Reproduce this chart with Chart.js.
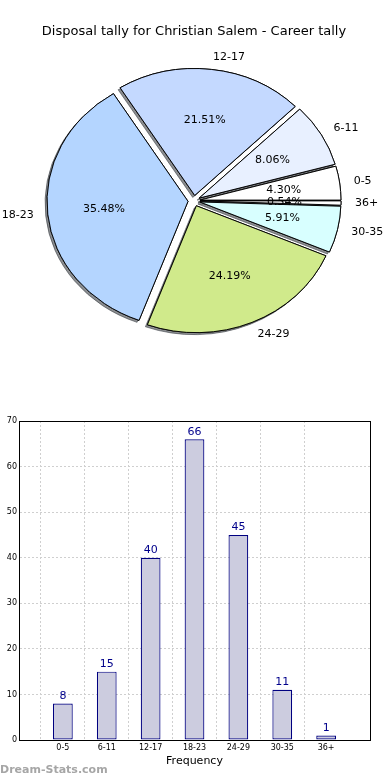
<!DOCTYPE html>
<html>
<head>
<meta charset="utf-8">
<script src="https://cdn.jsdelivr.net/npm/chart.js@4.4.1/dist/chart.umd.min.js"></script>
<style>
    body { margin: 0; background: #fff; }
    #page { position: relative; width: 390px; height: 780px; overflow: hidden; }
    #pieChart { position: absolute; left: 0; top: 0; }
    #barChart { position: absolute; left: 0; top: 400px; }
    #credit {
        position: absolute; left: 0; top: 763px;
        font: bold 11px "DejaVu Sans", sans-serif; color: #a6a6a6;
    }
</style>
</head>
<body>
<div id="page">
    <canvas id="pieChart" width="390" height="400"></canvas>
    <canvas id="barChart" width="390" height="380"></canvas>
    <div id="credit">Dream-Stats.com</div>
</div>
<script>
// Chart data
const ageGroups = ['0-5', '6-11', '12-17', '18-23', '24-29', '30-35', '36+'];
const disposalCounts = [8, 15, 40, 66, 45, 11, 1];
const countTicks = [0, 10, 20, 30, 40, 50, 60, 70];

// Styles
const sliceColors = ['#ffffff', '#e8f0ff', '#c4d9ff', '#b4d5ff', '#d0ea8b', '#d8ffff', '#ffffff'];
const EXPLODE = 6;      // px each slice is pulled out
const SQUASH = 0.9;     // pie is a bit flatter than a circle
const FONT = '"DejaVu Sans", sans-serif';

document.addEventListener('DOMContentLoaded', function() {
    createPieChart();
    createBarChart();
});

// Draws the slices pulled out, squashed, with a shadow pass underneath
const explodedPie = {
    id: 'explodedPie',
    beforeDatasetDraw(chart, args) {
        const ctx = chart.ctx;
        const area = chart.chartArea;
        const cx = (area.left + area.right) / 2;
        const cy = (area.top + area.bottom) / 2;
        ctx.save();
        ctx.translate(cx, cy);
        ctx.scale(1, SQUASH);
        ctx.translate(-cx, -cy);
        [true, false].forEach(withShadow => {
            args.meta.data.forEach(arc => {
                const mid = (arc.startAngle + arc.endAngle) / 2;
                ctx.save();
                if (withShadow) {
                    ctx.shadowColor = 'rgba(45, 50, 55, 0.55)';
                    ctx.shadowOffsetX = -2;
                    ctx.shadowOffsetY = 2;
                }
                ctx.translate(Math.cos(mid) * EXPLODE, Math.sin(mid) * EXPLODE);
                arc.draw(ctx);
                ctx.restore();
            });
        });
        ctx.restore();
        return false;
    },
    afterDatasetsDraw(chart) {
        const ctx = chart.ctx;
        const meta = chart.getDatasetMeta(0);
        const values = chart.data.datasets[0].data;
        const total = values.reduce((a, b) => a + b, 0);
        ctx.save();
        ctx.font = '11px ' + FONT;
        ctx.fillStyle = '#000';
        ctx.textBaseline = 'middle';
        meta.data.forEach((arc, i) => {
            const mid = (arc.startAngle + arc.endAngle) / 2;
            const cos = Math.cos(mid);
            const sin = Math.sin(mid);
            const r = arc.outerRadius;
            // category label outside
            ctx.textAlign = cos > 0 ? 'left' : 'right';
            ctx.fillText(chart.data.labels[i],
                arc.x + cos * (EXPLODE + 1.1 * r),
                arc.y + sin * (EXPLODE + 1.1 * r) * SQUASH);
            // percentage inside
            ctx.textAlign = 'center';
            ctx.fillText((values[i] / total * 100).toFixed(2) + '%',
                arc.x + cos * (EXPLODE + 0.6 * r),
                arc.y + sin * (EXPLODE + 0.6 * r) * SQUASH);
        });
        ctx.restore();
    }
};

function createPieChart() {
    // matplotlib goes counter-clockwise from 3 o'clock, Chart.js clockwise: reverse
    const labels = ageGroups.slice().reverse();
    const data = disposalCounts.slice().reverse();
    const colors = sliceColors.slice().reverse();

    new Chart(document.getElementById('pieChart'), {
        type: 'pie',
        data: {
            labels: labels,
            datasets: [{
                data: data,
                backgroundColor: colors,
                borderColor: '#000',
                borderWidth: 1
            }]
        },
        options: {
            responsive: false,
            animation: false,
            events: [],
            rotation: 90,
            radius: 141,
            layout: { padding: { left: 0, right: 2, top: 0, bottom: 38 } },
            plugins: {
                legend: { display: false },
                tooltip: { enabled: false },
                title: {
                    display: true,
                    text: 'Disposal tally for Christian Salem - Career tally',
                    color: '#000',
                    font: { family: FONT, size: 13, weight: 'normal' },
                    padding: { top: 24, bottom: 0 }
                }
            }
        },
        plugins: [explodedPie]
    });
}

// Numbers above the bars
const barValues = {
    id: 'barValues',
    afterDraw(chart) {
        const ctx = chart.ctx;
        const values = chart.data.datasets[0].data;
        ctx.save();
        ctx.font = '11px ' + FONT;
        ctx.fillStyle = '#00008b';
        ctx.textAlign = 'center';
        ctx.textBaseline = 'bottom';
        chart.getDatasetMeta(0).data.forEach((bar, i) => {
            if (values[i] == null) return;
            ctx.fillText(values[i], bar.x, bar.y - 2);
        });
        ctx.restore();
    }
};

function createBarChart() {
    // empty slots at both ends give the extra room matplotlib leaves
    const labels = [''].concat(ageGroups, ['']);
    const data = [null].concat(disposalCounts, [null]);
    const gridColor = '#cfcfcf';
    const hideEdges = (n) => (c) => (c.index === 0 || c.index === n - 1) ? 'rgba(0,0,0,0)' : gridColor;

    new Chart(document.getElementById('barChart'), {
        type: 'bar',
        data: {
            labels: labels,
            datasets: [{
                data: data,
                backgroundColor: '#ccccdf',
                borderColor: '#000080',
                borderWidth: 1.2,
                borderSkipped: false,
                barPercentage: 0.45,
                categoryPercentage: 1
            }]
        },
        options: {
            responsive: false,
            animation: false,
            events: [],
            layout: { padding: { left: 0, right: 20, top: 21, bottom: 0 } },
            plugins: {
                legend: { display: false },
                tooltip: { enabled: false }
            },
            scales: {
                x: {
                    type: 'category',
                    offset: false,
                    z: 1,
                    grid: { color: hideEdges(labels.length), drawTicks: false },
                    border: { color: '#000', width: 1, dash: [2, 2] },
                    ticks: {
                        autoSkip: false, maxRotation: 0, padding: 3,
                        color: '#000', font: { family: FONT, size: 8 }
                    },
                    title: {
                        display: true, text: 'Frequency', color: '#000',
                        font: { family: FONT, size: 11 },
                        padding: { top: 0, bottom: 12 }
                    },
                    afterFit: (scale) => { scale.height = 40; }
                },
                y: {
                    min: countTicks[0],
                    max: countTicks[countTicks.length - 1],
                    z: 1,
                    afterBuildTicks: (scale) => { scale.ticks = countTicks.map(v => ({ value: v })); },
                    grid: { color: hideEdges(countTicks.length), drawTicks: false },
                    border: { color: '#000', width: 1, dash: [2, 2] },
                    ticks: { padding: 2, color: '#000', font: { family: FONT, size: 8 } },
                    afterFit: (scale) => { scale.width = 19; }
                },
                xTop: {
                    type: 'linear', position: 'top', min: 0, max: 1, z: 2,
                    grid: { display: false },
                    ticks: { display: false },
                    border: { color: '#000', width: 1 },
                    afterFit: (scale) => { scale.height = 0; }
                },
                yRight: {
                    type: 'linear', position: 'right', min: 0, max: 1, z: 2,
                    grid: { display: false },
                    ticks: { display: false },
                    border: { color: '#000', width: 1 },
                    afterFit: (scale) => { scale.width = 0; }
                }
            }
        },
        plugins: [barValues]
    });
}
</script>
</body>
</html>
